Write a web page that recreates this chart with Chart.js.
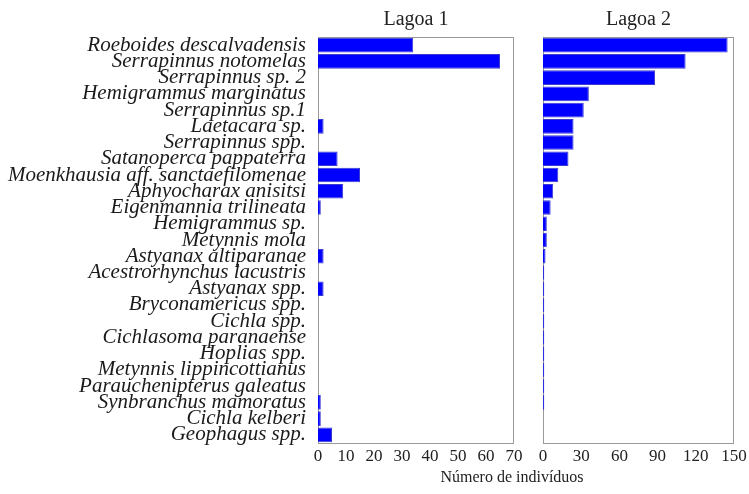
<!DOCTYPE html>
<html>
<head>
<meta charset="utf-8">
<script src="https://cdn.jsdelivr.net/npm/chart.js@4.4.0/dist/chart.umd.min.js"></script>
<style>
  body { margin: 0; background: #fff; }
  #wrap { position: relative; width: 749px; height: 494px; }
  #c1 { position: absolute; left: 0; top: 0; }
  #c2 { position: absolute; left: 530px; top: 0; }
  #xtitle {
    position: absolute; left: 412px; width: 200px; top: 468px;
    text-align: center; font: 16px 'Liberation Serif', 'Times New Roman', serif; color: #222;
  }
</style>
</head>
<body>
<div id="wrap">
  <canvas id="c1" width="530" height="494"></canvas>
  <canvas id="c2" width="219" height="494"></canvas>
  <div id="xtitle">Número de indivíduos</div>
</div>
<script>
var species = [
    'Roeboides descalvadensis', 'Serrapinnus notomelas', 'Serrapinnus sp. 2',
    'Hemigrammus marginatus', 'Serrapinnus sp.1', 'Laetacara sp.', 'Serrapinnus spp.',
    'Satanoperca pappaterra', 'Moenkhausia aff. sanctaefilomenae', 'Aphyocharax anisitsi',
    'Eigenmannia trilineata', 'Hemigrammus sp.', 'Metynnis mola', 'Astyanax altiparanae',
    'Acestrorhynchus lacustris', 'Astyanax spp.', 'Bryconamericus spp.', 'Cichla spp.',
    'Cichlasoma paranaense', 'Hoplias spp.', 'Metynnis lippincottianus',
    'Parauchenipterus galeatus', 'Synbranchus mamoratus', 'Cichla kelberi', 'Geophagus spp.'
];
var lagoa1 = [34, 65, 0, 0, 0, 2, 0, 7, 15, 9, 1, 0, 0, 2, 0, 2, 0, 0, 0, 0, 0, 0, 1, 1, 5];
var lagoa2 = [145, 112, 88, 36, 32, 24, 24, 20, 12, 8, 6, 3, 3, 2, 1, 1, 1, 1, 1, 1, 1, 1, 1, 0, 0];
var lagoa1Max = 70, lagoa1Step = 10;
var lagoa2Max = 150, lagoa2Step = 30;

var serif = "'Liberation Serif', 'Times New Roman', serif";

// grey box around each plot area
var framePlugin = {
    id: 'frame',
    beforeDatasetsDraw: function (chart) {
        var a = chart.chartArea, ctx = chart.ctx;
        ctx.save();
        ctx.strokeStyle = '#9a9a9a';
        ctx.lineWidth = 1;
        ctx.strokeRect(a.left + 0.5, a.top + 0.5, a.right - a.left - 1, a.bottom - a.top);
        ctx.restore();
    }
};

function makeChart(id, title, values, max, step, showLabels, padLeft, padRight) {
    return new Chart(document.getElementById(id).getContext('2d'), {
        type: 'bar',
        data: {
            labels: species,
            datasets: [{
                data: values,
                backgroundColor: '#0000ff',
                borderColor: '#3a3ad0',
                borderWidth: 1,
                barPercentage: 0.9,
                categoryPercentage: 1.0
            }]
        },
        options: {
            indexAxis: 'y',
            responsive: false,
            animation: false,
            layout: { padding: { left: padLeft, right: padRight, top: 0, bottom: 21 } },
            plugins: {
                legend: { display: false },
                tooltip: { enabled: false },
                title: {
                    display: true,
                    text: title,
                    fullSize: false,
                    color: '#222',
                    font: { family: serif, size: 20, weight: 'normal', lineHeight: 1.2 },
                    padding: { top: 8, bottom: 5 }
                }
            },
            scales: {
                x: {
                    min: 0,
                    max: max,
                    grid: { display: false },
                    border: { display: false },
                    ticks: {
                        stepSize: step,
                        padding: -5,
                        color: '#222',
                        maxRotation: 0,
                        font: { family: serif, size: 17 }
                    },
                    afterFit: function (s) {
                        s.height = 30;
                        s.paddingLeft = 0;
                        s.paddingRight = 0;
                    }
                },
                y: {
                    display: showLabels,
                    grid: { display: false },
                    border: { display: false },
                    ticks: {
                        autoSkip: false,
                        padding: 4,
                        color: '#1a1a1a',
                        font: { family: serif, size: 21, style: 'italic', lineHeight: 1 }
                    },
                    afterFit: function (s) {
                        if (showLabels) s.width = 318;
                        s.paddingTop = 0;
                        s.paddingBottom = 0;
                    }
                }
            }
        },
        plugins: [framePlugin]
    });
}

makeChart('c1', 'Lagoa 1', lagoa1, lagoa1Max, lagoa1Step, true, 0, 16);
makeChart('c2', 'Lagoa 2', lagoa2, lagoa2Max, lagoa2Step, false, 13, 15);
</script>
</body>
</html>
